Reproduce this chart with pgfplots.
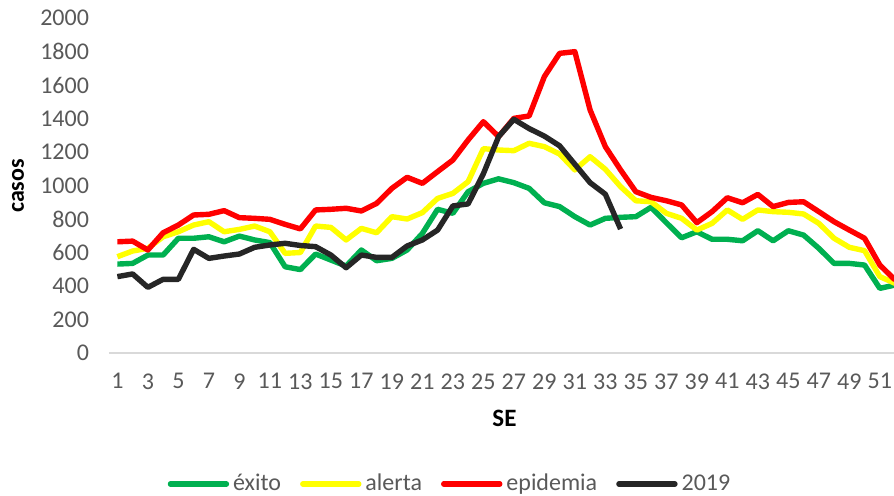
\documentclass[border=0pt]{standalone}
\usepackage{fontspec}
\setmainfont{Carlito}
\usepackage{pgfplots}
\pgfplotsset{compat=1.18}
\definecolor{cgreen}{HTML}{00B050}
\definecolor{cyellow}{HTML}{FFFF00}
\definecolor{cred}{HTML}{FF0000}
\definecolor{cblack}{HTML}{262626}
\definecolor{textgray}{HTML}{595959}
\definecolor{axisgray}{HTML}{D9D9D9}
\begin{document}
\begin{tikzpicture}
\begin{axis}[
  at={(0,0)}, anchor=south west,
  scale only axis, width=392.5pt, height=167.5pt,
  xmin=0.45, xmax=51.93, ymin=0, ymax=2000,
  axis lines=left, axis line style={-},
  x axis line style={draw=axisgray, line width=1pt},
  y axis line style={draw=none},
  major tick length=0pt, tick style={draw=none},
  xtick={1,3,...,51}, ytick={0,200,...,2000},
  /pgf/number format/assume math mode=true,
  /pgf/number format/1000 sep={},
  ticklabel style={font=\fontsize{12}{14}\selectfont, text=textgray},
  yticklabel style={xshift=-6.5pt},
  xticklabel style={yshift=-6.7pt},
  xlabel={SE},
  xlabel style={at={(rel axis cs:0.5038,-0.194)}, anchor=center, font=\fontsize{12.5}{14}\selectfont\bfseries},
  legend columns=4,
  legend style={at={(0.4357,-0.391)}, anchor=center, draw=none, fill=none,
    font=\fontsize{12}{14}\selectfont, text=textgray,
    /tikz/every even column/.append style={column sep=7.5pt}},
  legend image code/.code={\draw[#1, line cap=round] (0pt,0pt) -- (28pt,0pt);},
  every axis plot/.append style={line width=2.7pt, line join=round, no markers},
]
\addplot[cgreen] coordinates {
(1,531)(2,535)(3,585)(4,585)(5,685)(6,685)(7,694)(8,664)(9,698)(10,675)
(11,659)(12,515)(13,498)(14,591)(15,555)(16,519)(17,615)(18,551)(19,565)(20,615)
(21,714)(22,858)(23,834)(24,963)(25,1013)(26,1040)(27,1017)(28,983)(29,897)(30,874)
(31,814)(32,764)(33,804)(34,810)(35,814)(36,870)(37,778)(38,688)(39,724)(40,679)
(41,679)(42,670)(43,730)(44,670)(45,730)(46,704)(47,625)(48,535)(49,535)(50,525)
(51,386)(52,406)};
\addlegendentry{éxito}
\addplot[cyellow] coordinates {
(1,575)(2,609)(3,625)(4,694)(5,724)(6,764)(7,784)(8,724)(9,738)(10,758)
(11,724)(12,595)(13,600)(14,758)(15,750)(16,675)(17,744)(18,718)(19,814)(20,800)
(21,838)(22,923)(23,953)(24,1023)(25,1220)(26,1212)(27,1208)(28,1252)(29,1232)(30,1188)
(31,1093)(32,1172)(33,1097)(34,993)(35,909)(36,903)(37,834)(38,804)(39,734)(40,774)
(41,854)(42,798)(43,854)(44,844)(45,840)(46,830)(47,774)(48,685)(49,631)(50,611)
(51,456)(52,416)};
\addlegendentry{alerta}
\addplot[cred] coordinates {
(1,664)(2,668)(3,615)(4,718)(5,764)(6,824)(7,828)(8,850)(9,808)(10,804)
(11,798)(12,768)(13,741)(14,854)(15,858)(16,864)(17,848)(18,893)(19,983)(20,1049)
(21,1013)(22,1083)(23,1152)(24,1272)(25,1381)(26,1292)(27,1401)(28,1415)(29,1650)(30,1789)
(31,1799)(32,1451)(33,1232)(34,1093)(35,963)(36,929)(37,909)(38,884)(39,778)(40,844)
(41,927)(42,897)(43,947)(44,874)(45,899)(46,903)(47,844)(48,784)(49,734)(50,685)
(51,525)(52,436)};
\addlegendentry{epidemia}
\addplot[cblack] coordinates {
(1,456)(2,472)(3,392)(4,440)(5,440)(6,619)(7,565)(8,579)(9,591)(10,631)
(11,645)(12,655)(13,642)(14,635)(15,585)(16,509)(17,585)(18,571)(19,571)(20,639)
(21,675)(22,734)(23,878)(24,890)(25,1070)(26,1292)(27,1395)(28,1340)(29,1295)(30,1237)
(31,1127)(32,1017)(33,948)(34,740)};
\addlegendentry{2019}
\end{axis}
\node[rotate=90, anchor=center, font=\fontsize{12}{14}\selectfont\bfseries] at (-45.5pt,83.5pt) {casos};
\pgfresetboundingbox
\path[use as bounding box] (-54.5pt,-71pt) rectangle (392.5pt,176.5pt);
\end{tikzpicture}
\end{document}
